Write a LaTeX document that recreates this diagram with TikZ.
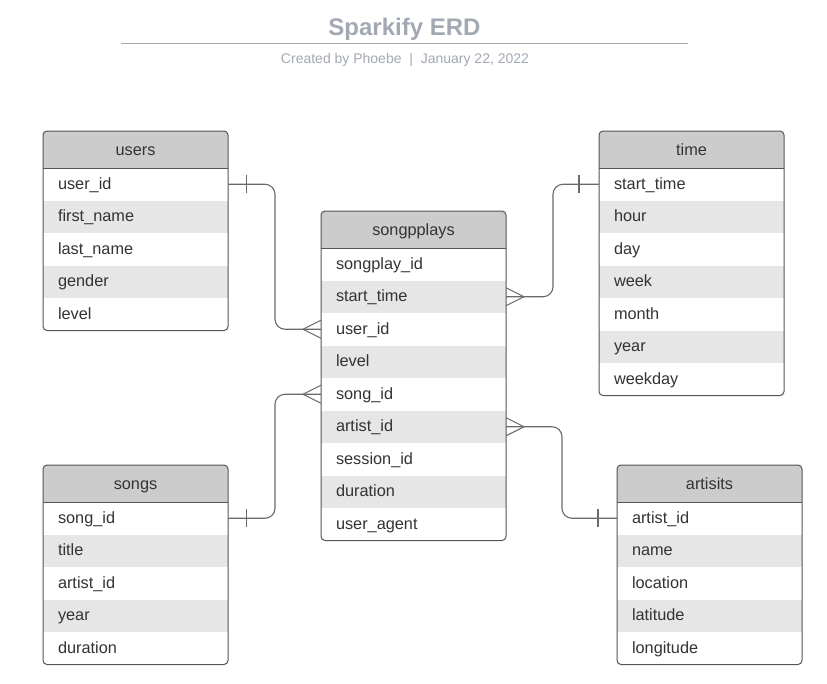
\documentclass[tikz,border=0pt]{standalone}
\usepackage{fontspec}
\setmainfont{Liberation Sans}
\usetikzlibrary{calc}
\definecolor{hdr}{HTML}{CCCCCC}
\definecolor{alt}{HTML}{E6E6E6}
\definecolor{edgec}{HTML}{555555}
\definecolor{conn}{HTML}{6A6A6A}
\definecolor{titlec}{HTML}{A3A9B3}
\definecolor{txt}{HTML}{333333}
\tikzset{
  erdrow/.style={anchor=north west, minimum height=32.5pt, text width=155pt,
    inner xsep=15pt, inner ysep=0pt, text height=12pt, text depth=2pt,
    align=left, font=\fontsize{16.3}{18}\selectfont, text=txt, outer sep=0pt},
  erdhead/.style={anchor=north west, minimum height=37pt, text width=155pt,
    inner xsep=15pt, inner ysep=0pt, text height=12.5pt, text depth=1.5pt,
    align=center, font=\fontsize{16.3}{18}\selectfont, text=txt, fill=hdr, outer sep=0pt},
  tabborder/.style={draw=edgec, line width=1pt},
  relline/.style={draw=conn, line width=1.1pt},
}
\newcommand\erdtab[6]{%
  \begin{scope}
    \clip[rounded corners=4pt] (#2,#3) rectangle ++(185,{37+#5*32.5});
    \node[erdhead] (#1-h) at (#2,#3) {#4};
    \foreach \r [count=\i] in {#6} {
      \ifodd\i\def\rf{white}\else\def\rf{alt}\fi
      \node[erdrow, fill=\rf] (#1-\i) at (#2,{#3+37+(\i-1)*32.5}) {\r};
    }
  \end{scope}
  \draw[tabborder, rounded corners=4pt] (#2,#3) rectangle ++(185,{37+#5*32.5});
  \draw[tabborder] (#2,#3+37) -- ++(185,0);
}
\begin{document}
\begin{tikzpicture}[x=1pt,y=-1pt]
\useasboundingbox (0,0) rectangle (827,683);
\fill[white] (0,0) rectangle (827,683);

\node[font=\fontsize{24}{28}\selectfont\bfseries, text=titlec, anchor=base] (title) at (404.5,35) {Sparkify ERD};
\draw[draw=titlec, line width=1.5pt] (121,43.5) -- (688,43.5);
\node[font=\fontsize{14}{16}\selectfont, text=titlec, anchor=base] (sub) at (405,63) {Created by Phoebe~~|~~January 22, 2022};

\erdtab{users}{43}{131}{users}{5}{user\_id,first\_name,last\_name,gender,level}
\erdtab{time}{599}{131}{time}{7}{start\_time,hour,day,week,month,year,weekday}
\erdtab{sp}{321}{211}{songpplays}{9}{songplay\_id,start\_time,user\_id,level,song\_id,artist\_id,session\_id,duration,user\_agent}
\erdtab{songs}{43}{465}{songs}{5}{song\_id,title,artist\_id,year,duration}
\erdtab{art}{617}{465}{artisits}{5}{artist\_id,name,location,latitude,longitude}

% users -> songplays
\draw[relline, rounded corners=10pt] (users-1.east) -- ++(47,0) |- (sp-3.west);
\draw[relline] ($(users-1.east)+(18.5,-9)$) -- ++(0,18);
\draw[relline] ($(sp-3.west)+(-18,0)$) -- ($(sp-3.west)+(0,-9)$);
\draw[relline] ($(sp-3.west)+(-18,0)$) -- ($(sp-3.west)+(0,9)$);

% time -> songplays
\draw[relline, rounded corners=10pt] (time-1.west) -- ++(-46,0) |- (sp-2.east);
\draw[relline] ($(time-1.west)+(-20,-9)$) -- ++(0,18);
\draw[relline] ($(sp-2.east)+(18,0)$) -- ($(sp-2.east)+(0,-9)$);
\draw[relline] ($(sp-2.east)+(18,0)$) -- ($(sp-2.east)+(0,9)$);

% songs -> songplays
\draw[relline, rounded corners=10pt] (songs-1.east) -- ++(47,0) |- (sp-5.west);
\draw[relline] ($(songs-1.east)+(18.5,-9)$) -- ++(0,18);
\draw[relline] ($(sp-5.west)+(-18,0)$) -- ($(sp-5.west)+(0,-9)$);
\draw[relline] ($(sp-5.west)+(-18,0)$) -- ($(sp-5.west)+(0,9)$);

% artists -> songplays
\draw[relline, rounded corners=10pt] (art-1.west) -- ++(-55,0) |- (sp-6.east);
\draw[relline] ($(art-1.west)+(-19,-9)$) -- ++(0,18);
\draw[relline] ($(sp-6.east)+(18,0)$) -- ($(sp-6.east)+(0,-9)$);
\draw[relline] ($(sp-6.east)+(18,0)$) -- ($(sp-6.east)+(0,9)$);
\end{tikzpicture}
\end{document}
